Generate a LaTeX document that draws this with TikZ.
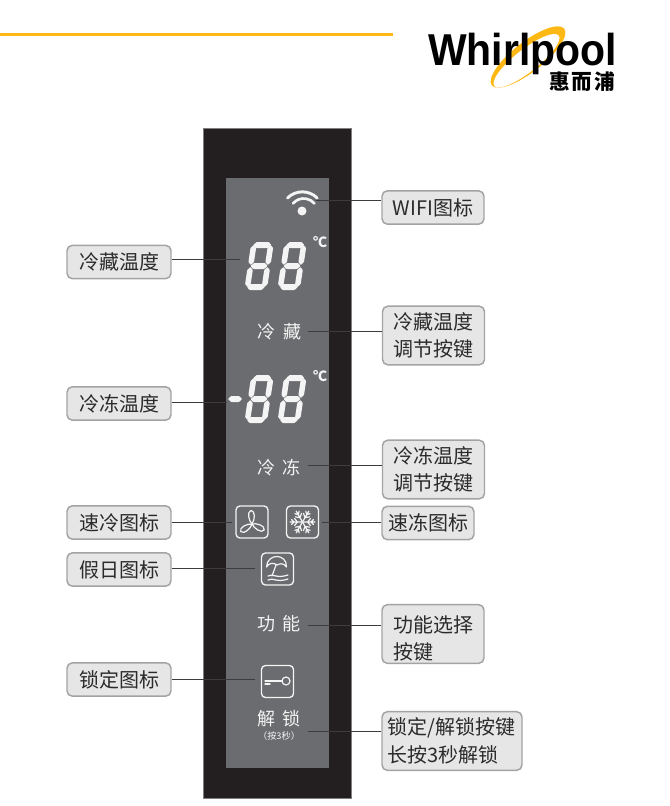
\documentclass[tikz,border=0pt]{standalone}
\usepackage{fontspec}
\setmainfont{Noto Sans CJK SC}
\newfontfamily\logofont{Liberation Sans}
\definecolor{bezelc}{HTML}{231F20}
\definecolor{panelc}{HTML}{6B6C6F}
\definecolor{boxc}{HTML}{E6E6E6}
\definecolor{edgec}{HTML}{A3A3A3}
\definecolor{inkc}{HTML}{2B2B2B}
\definecolor{leadc}{HTML}{3C3C3C}
\definecolor{goldc}{HTML}{FDB813}
\definecolor{glowc}{HTML}{F4F4F4}

\tikzset{
  callout/.style={draw=edgec, fill=boxc, line width=1.1pt, rounded corners=4pt, inner sep=0pt, text=inkc, font=\fontsize{15}{20.5}\selectfont},
  leftbox/.style={callout, minimum width=78pt, minimum height=25pt},
  rightbox/.style={callout, minimum width=76.5pt, minimum height=25pt},
  tallbox/.style={rightbox, minimum height=44pt},
  lead/.style={draw=leadc, line width=0.7pt},
  paneltext/.style={text=glowc, inner sep=0pt, font=\fontsize{13.5}{15}\selectfont},
  iconbox/.style={draw=glowc, line width=1pt, rounded corners=3pt, minimum size=24pt, inner sep=0pt},
  iconline/.style={draw=glowc, line width=0.9pt, line cap=round, line join=round},
  segpart/.style={fill=glowc, rounded corners=0.5pt}
}

\newcommand{\hseg}[3]{\fill[segpart] (#1,#3) -- (#1+3,#3-3) -- (#2-3,#3-3) -- (#2,#3) -- (#2-3,#3+3) -- (#1+3,#3+3) -- cycle;}
\newcommand{\vseg}[3]{\fill[segpart] (#1,#2) -- (#1+2.8,#2+3) -- (#1+2.8,#3-3) -- (#1,#3) -- (#1-2.8,#3-3) -- (#1-2.8,#2+3) -- cycle;}
\newcommand{\segdigit}[2]{
  \begin{scope}[shift={(#1,#2)}, xslant=0.15]
    \hseg{1.5}{19.5}{-45}
    \hseg{2}{19}{-24}
    \hseg{1.5}{19.5}{-3}
    \vseg{2}{-45}{-25}
    \vseg{19}{-45}{-25}
    \vseg{2}{-23}{-3}
    \vseg{19}{-23}{-3}
  \end{scope}
}

\begin{document}
\begin{tikzpicture}[x=0.75pt, y=-0.75pt]
\useasboundingbox (0,0) rectangle (669,806);

\fill[goldc] (0,33.5) rectangle (393,36.5);

\fill[goldc, even odd rule, rotate around={38:(528,57)}] (528,57) ellipse [x radius=46, y radius=15] (524.5,59) ellipse [x radius=41, y radius=11.5];
\node[inner sep=0pt, anchor=base west, xscale=0.917] (brand) at (428,66) {\logofont\bfseries\fontsize{33.5}{36}\selectfont\smash{Whirlpool}};
\node[inner sep=0pt, font=\bfseries\fontsize{15.5}{15.5}\selectfont] (brandcn) at (582,81.5) {惠\hspace{1.5pt}而\hspace{1.5pt}浦};

\draw[fill=bezelc, draw=gray, line width=0.4pt] (203.5,128) rectangle (351.5,798);
\fill[panelc] (226,178) rectangle (329,768);

\fill[glowc] (302,211) circle [radius=4.5];
\draw[glowc, line width=2pt, line cap=round] (293,203.5) arc [start angle=220, end angle=320, radius=14];
\draw[glowc, line width=2.2pt, line cap=round] (287.5,198) arc [start angle=225, end angle=315, radius=21];

\segdigit{245}{290}
\segdigit{278}{290}
\segdigit{245}{423}
\segdigit{278}{423}
\fill[segpart] (228,399) -- (231,396) -- (239,396) -- (242,399) -- (239,402) -- (231,402) -- cycle;

\node[paneltext, font=\bfseries\fontsize{10.5}{12}\selectfont] (tempa) at (320,242) {℃};
\node[paneltext, font=\bfseries\fontsize{10.5}{12}\selectfont] (tempb) at (320,376) {℃};

\node[paneltext] (fridgekey) at (279.5,332) {冷\hspace{6pt}藏};
\node[paneltext] (freezekey) at (279,468) {冷\hspace{6pt}冻};
\node[paneltext] (funckey) at (279,624) {功\hspace{6pt}能};
\node[paneltext] (lockkey) at (279,719) {解\hspace{6pt}锁};
\node[paneltext, font=\fontsize{6.9}{8}\selectfont] (locknote) at (279,736) {（按3秒）};

\node[iconbox] (fanicon) at (252,522) {};
\node[iconbox] (snowicon) at (302.5,522) {};
\node[iconbox] (sunicon) at (277.5,569) {};
\node[iconbox] (keyicon) at (277.5,681.5) {};

\foreach \a in {90,210,330}{
  \draw[iconline, shift={(252,524)}, rotate=\a] (0,0) .. controls (3,-3) and (12,-5.5) .. (13.5,-1) .. controls (13.5,3.5) and (4,3) .. (0,0);
}

\foreach \a in {0,60,120,180,240,300}{
  \draw[iconline, shift={(302.5,522)}, rotate=\a] (0,0) -- (12.5,0) (5,0) -- (8,-3.5) (5,0) -- (8,3.5) (8.5,0) -- (11,-2.5) (8.5,0) -- (11,2.5);
}

\draw[iconline] (266.5,567) .. controls (267,553) and (287,553) .. (286.5,567) .. controls (283,562) and (279,564) .. (277,565) .. controls (273,562) and (269,563) .. (266.5,567);
\draw[iconline] (276,565) -- (272,576);
\draw[iconline] (268,576) .. controls (273,573) and (276,579) .. (288,575);
\draw[iconline] (268,580) .. controls (273,577) and (276,583) .. (288,579);

\draw[iconline] (286,681) circle [radius=4];
\draw[iconline] (265,681) -- (282,681);
\draw[iconline] (265,684) -- (270,684);

\node[leftbox] (fridgetemp) at (119,262) {冷藏温度};
\node[leftbox] (freezetemp) at (119,403.5) {冷冻温度};
\node[leftbox] (fasticon) at (119,522.5) {速冷图标};
\node[leftbox] (holiday) at (119,569.5) {假日图标};
\node[leftbox] (lockicon) at (119,679.5) {锁定图标};

\node[rightbox] (wifi) at (433,207.5) {WIFI图标};
\node[tallbox, align=center] (fridgeadj) at (433.5,335.5) {冷藏温度\\调节按键};
\node[tallbox, align=center] (freezeadj) at (433.5,469.5) {冷冻温度\\调节按键};
\node[rightbox, minimum width=69pt] (quick) at (428,523) {速冻图标};
\node[tallbox, align=left, text width=60pt, inner xsep=8.25pt] (funcsel) at (433,634) {\rule{0pt}{19pt}功能选择\\按键};
\node[tallbox, align=left, minimum width=105pt, text width=97pt, inner xsep=4pt] (lockbtn) at (452,741) {锁定/解锁按键\\长按3秒解锁};

\coordinate (wifiend) at (316,200);
\coordinate (fridgeend) at (240,259);
\coordinate (fkeyend) at (308,331);
\coordinate (freezeend) at (227,402);
\coordinate (zkeyend) at (308,465);
\coordinate (fastend) at (232,522);
\coordinate (quickend) at (322,522);
\coordinate (holidayend) at (255,568);
\coordinate (funcend) at (308,625);
\coordinate (lockend) at (255,679);
\coordinate (btnend) at (308,731);

\draw[lead] (wifi.west |- wifiend) -- (wifiend);
\draw[lead] (fridgetemp.east |- fridgeend) -- (fridgeend);
\draw[lead] (fridgeadj.west |- fkeyend) -- (fkeyend);
\draw[lead] (freezetemp.east |- freezeend) -- (freezeend);
\draw[lead] (freezeadj.west |- zkeyend) -- (zkeyend);
\draw[lead] (fasticon.east |- fastend) -- (fastend);
\draw[lead] (quick.west |- quickend) -- (quickend);
\draw[lead] (holiday.east |- holidayend) -- (holidayend);
\draw[lead] (funcsel.west |- funcend) -- (funcend);
\draw[lead] (lockicon.east |- lockend) -- (lockend);
\draw[lead] (lockbtn.west |- btnend) -- (btnend);

\end{tikzpicture}
\end{document}
